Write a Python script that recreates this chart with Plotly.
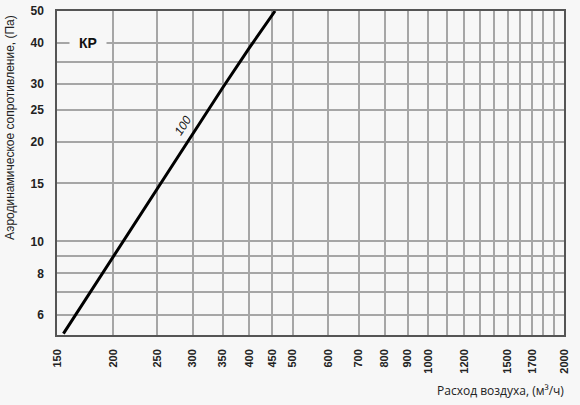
import math
import plotly.graph_objects as go

# Data
flow = [155, 200, 250, 300, 350, 400, 457]
pressure = [5.25, 9.0, 14.4, 21.2, 29.3, 38.5, 50.0]
series_label = "100"
model_label = "КР"

x_tickvals = [150, 200, 250, 300, 350, 400, 450, 500, 600, 700, 800, 900, 1000,
              1100, 1200, 1300, 1400, 1500, 1600, 1700, 1800, 1900, 2000]
x_ticktext = ["150", "200", "250", "300", "350", "400", "450", "500", "600", "700",
              "800", "900", "1000", "", "1200", "", "", "1500", "", "1700", "", "", "2000"]
y_tickvals = [6, 7, 8, 9, 10, 15, 20, 25, 30, 35, 40, 50]
y_ticktext = ["6", "", "8", "", "10", "15", "20", "25", "30", "", "40", "50"]

bg = "#f7f7f7"
grid = "#a6a6a6"

fig = go.Figure()
fig.add_trace(go.Scatter(x=flow, y=pressure, mode="lines",
                         line=dict(color="#000000", width=3), showlegend=False,
                         hoverinfo="skip"))

fig.update_layout(
    width=580, height=405,
    margin=dict(l=57, r=16, t=11, b=70, autoexpand=False),
    paper_bgcolor=bg, plot_bgcolor=bg,
    font=dict(family="Liberation Sans, Arial, sans-serif", color="#222222"),
    xaxis=dict(type="log", range=[math.log10(150), math.log10(2000)],
               automargin=False,
               tickmode="array", tickvals=x_tickvals, ticktext=x_ticktext,
               tickangle=-90, ticks="", ticklabelstandoff=8,
               tickfont=dict(size=11, family="Liberation Sans, Arial", weight="bold", color="#222"),
               showgrid=True, gridcolor=grid, gridwidth=1.5,
               showline=True, linecolor="#555555", linewidth=1.5, mirror=True,
               zeroline=False),
    yaxis=dict(type="log", range=[math.log10(5.2), math.log10(50)],
               automargin=False,
               tickmode="array", tickvals=y_tickvals, ticktext=y_ticktext,
               ticks="", ticklabelstandoff=9,
               tickfont=dict(size=12, family="Liberation Sans, Arial", weight="bold", color="#222"),
               showgrid=True, gridcolor=grid, gridwidth=1.5,
               showline=True, linecolor="#555555", linewidth=1.5, mirror=True,
               zeroline=False),
)

fig.add_annotation(x=math.log10(176), y=math.log10(40), xref="x", yref="y",
                   text="<b>" + model_label + "</b>", showarrow=False,
                   font=dict(size=14, family="Liberation Sans, Arial", color="#111"),
                   bgcolor=bg, borderpad=3, width=30)

fig.add_annotation(x=math.log10(285), y=math.log10(22.4), xref="x", yref="y",
                   text=series_label, showarrow=False, textangle=-57,
                   font=dict(size=12, family="Liberation Sans, Arial", color="#111", style="italic"))

fig.add_annotation(x=-0.0927, y=0.639, xref="paper", yref="paper",
                   text="Аэродинамическое сопротивление, (Па)", showarrow=False,
                   textangle=-90, xanchor="center", yanchor="middle",
                   font=dict(size=12, family="Liberation Sans, Arial", color="#222"))

fig.add_annotation(x=1.003, y=-0.17, xref="paper", yref="paper",
                   text="Расход воздуха, (м³/ч)", showarrow=False,
                   xanchor="right", yanchor="middle",
                   font=dict(size=12, family="Open Sans, sans-serif", color="#222"))

fig.write_html("out.html", config={"displayModeBar": False},
               post_script="document.body.style.margin='0';document.body.style.background='#f7f7f7';")
